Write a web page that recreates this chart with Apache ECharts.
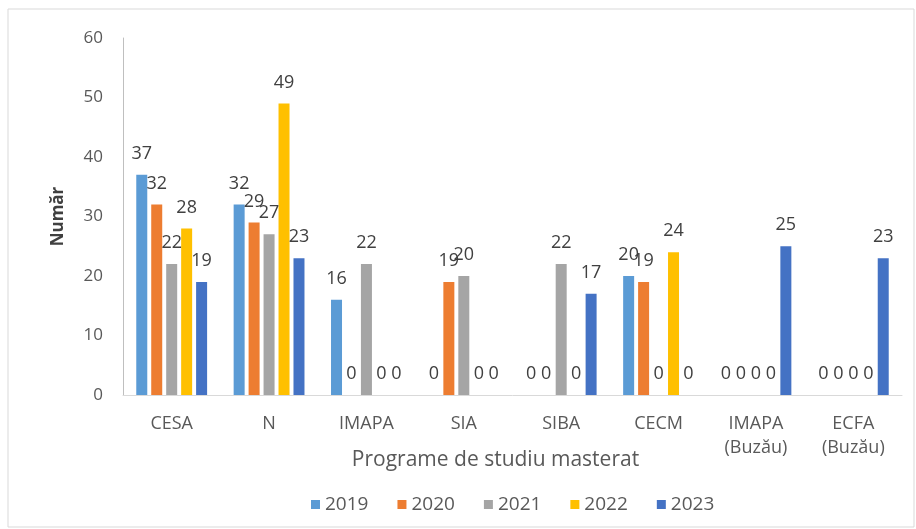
<!DOCTYPE html>
<html>
<head>
<meta charset="utf-8">
<script src="https://cdn.jsdelivr.net/npm/echarts@6/dist/echarts.min.js"></script>
<style>
  html, body { margin: 0; padding: 0; background: #fff; }
  #main { width: 916px; height: 529px; }
</style>
</head>
<body>
<div id="main"></div>
<script>
// date
const categories = ['CESA', 'N', 'IMAPA', 'SIA', 'SIBA', 'CECM', 'IMAPA\n(Buzău)', 'ECFA\n(Buzău)'];
const years = ['2019', '2020', '2021', '2022', '2023'];
const v2019 = [37, 32, 16, 0, 0, 20, 0, 0];
const v2020 = [32, 29, 0, 19, 0, 19, 0, 0];
const v2021 = [22, 27, 22, 20, 22, 0, 0, 0];
const v2022 = [28, 49, 0, 0, 0, 24, 0, 0];
const v2023 = [19, 23, 0, 0, 17, 0, 25, 23];
const yTicks = [0, 10, 20, 30, 40, 50, 60];

const colors = ['#5B9BD5', '#ED7D31', '#A5A5A5', '#FFC000', '#4472C4'];
const values = [v2019, v2020, v2021, v2022, v2023];
const font = 'Open Sans';

let myChart = echarts.init(document.getElementById('main'));

let series = years.map(function (y, i) {
    return {
        name: y,
        type: 'bar',
        data: values[i],
        barWidth: 11,
        barGap: '36%',
        itemStyle: { color: colors[i] },
        label: {
            show: true,
            position: 'top',
            distance: 12,
            color: '#404040',
            fontSize: 18,
            fontFamily: font
        }
    };
});

let option = {
    backgroundColor: '#fff',
    graphic: [{
        type: 'rect',
        shape: { x: 8, y: 9, width: 906, height: 518 },
        style: { fill: 'none', stroke: '#d9d9d9', lineWidth: 1 },
        silent: true
    }],
    color: colors,
    legend: {
        data: years,
        bottom: 10,
        left: 306,
        itemWidth: 9,
        itemHeight: 9,
        itemGap: 29,
        icon: 'rect',
        textStyle: { color: '#595959', fontSize: 19, fontFamily: font }
    },
    grid: { left: 123, right: 14, top: 38, bottom: 134 },
    xAxis: {
        type: 'category',
        data: categories,
        name: 'Programe de studiu masterat',
        nameLocation: 'middle',
        nameGap: 55,
        nameMoveOverlap: false,
        nameTextStyle: { color: '#595959', fontSize: 21, fontFamily: font, padding: [0, 34, 0, 0] },
        axisLine: { lineStyle: { color: '#d9d9d9' } },
        axisTick: { show: false },
        axisLabel: {
            color: '#595959',
            fontSize: 18,
            fontFamily: font,
            margin: 17,
            lineHeight: 24,
            interval: 0
        }
    },
    yAxis: {
        type: 'value',
        min: 0,
        max: 60,
        interval: 10,
        name: 'Număr',
        nameLocation: 'middle',
        nameGap: 56,
        nameTextStyle: { color: '#404040', fontSize: 17, fontWeight: 'bold', fontFamily: font },
        axisLine: { show: true, lineStyle: { color: '#bfbfbf' } },
        axisTick: { show: false },
        splitLine: { show: false },
        axisLabel: {
            color: '#595959',
            fontSize: 17,
            fontFamily: font,
            margin: 20,
            formatter: function (v) { return yTicks.indexOf(v) >= 0 ? String(v) : ''; }
        }
    },
    series: series
};
myChart.setOption(option);
</script>
</body>
</html>
